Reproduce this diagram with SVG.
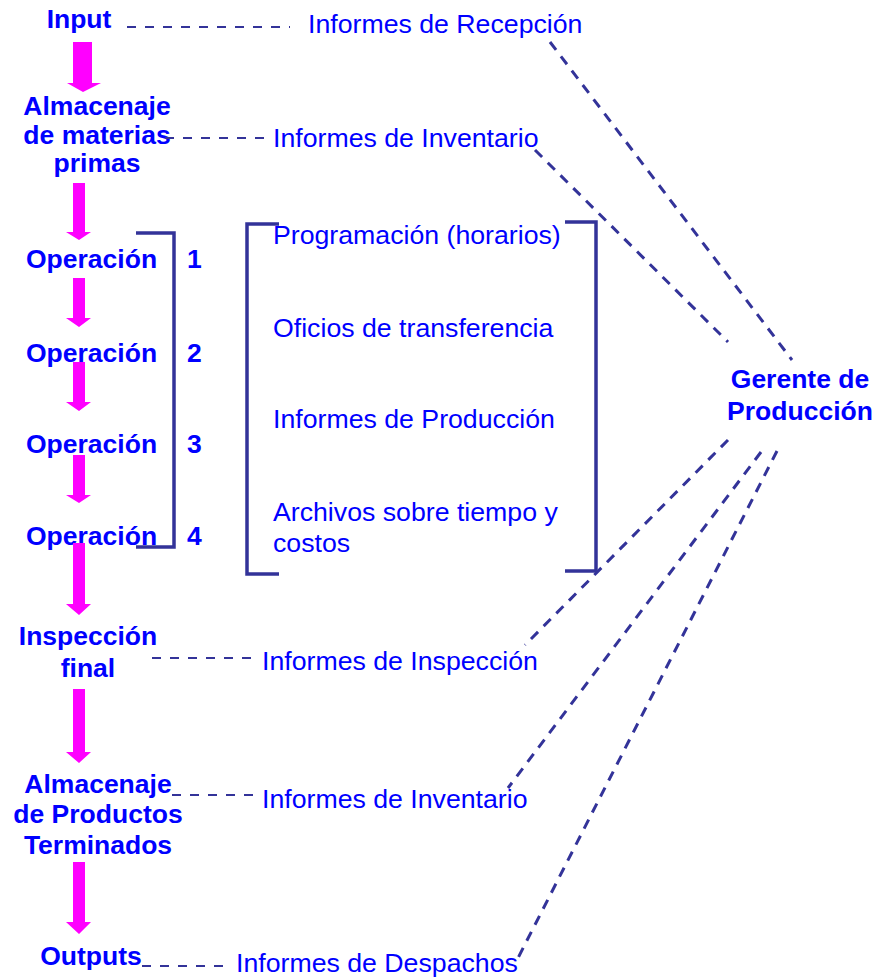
<svg xmlns="http://www.w3.org/2000/svg" width="880" height="978" viewBox="0 0 880 978">
  <defs>
    <style>
      .bold { font-family: "Liberation Sans", Arial, sans-serif; font-weight: bold; font-size: 26.5px; fill: #0000FF; }
      .reg { font-family: "Liberation Sans", Arial, sans-serif; font-size: 26.7px; fill: #0000FF; }
      .mid { text-anchor: middle; }
      .flow { fill: #FF00FF; stroke: none; }
      .dash { fill: none; stroke: #333399; stroke-width: 2.2; stroke-dasharray: 9 9; }
      .diag { fill: none; stroke: #333399; stroke-width: 3; stroke-dasharray: 10 8; }
      .brk { fill: none; stroke: #333399; stroke-width: 3.5; }
    </style>
  </defs>
  <rect width="880" height="978" fill="#FFFFFF"/>

  <!-- process stages -->
  <g id="input"><text class="bold mid" x="79" y="28">Input</text></g>
  <g id="almacenaje-mp">
    <text class="bold mid" x="97" y="115">Almacenaje</text>
    <text class="bold mid" x="97" y="144">de materias</text>
    <text class="bold mid" x="97" y="172">primas</text>
  </g>
  <g id="op1"><text class="bold" x="26" y="268">Operación</text><text class="bold" x="187" y="268">1</text></g>
  <g id="op2"><text class="bold" x="26" y="362">Operación</text><text class="bold" x="187" y="362">2</text></g>
  <g id="op3"><text class="bold" x="26" y="453">Operación</text><text class="bold" x="187" y="453">3</text></g>
  <g id="op4"><text class="bold" x="26" y="545">Operación</text><text class="bold" x="187" y="545">4</text></g>
  <g id="inspeccion">
    <text class="bold mid" x="88" y="645">Inspección</text>
    <text class="bold mid" x="88" y="677">final</text>
  </g>
  <g id="almacenaje-pt">
    <text class="bold mid" x="98" y="793">Almacenaje</text>
    <text class="bold mid" x="98" y="823">de Productos</text>
    <text class="bold mid" x="98" y="854">Terminados</text>
  </g>
  <g id="outputs"><text class="bold mid" x="91" y="965">Outputs</text></g>

  <!-- reports -->
  <g id="inf-recepcion"><text class="reg" x="308" y="33">Informes de Recepción</text></g>
  <g id="inf-inventario-mp"><text class="reg" x="273" y="147">Informes de Inventario</text></g>
  <g id="registros">
    <text class="reg" x="273" y="244">Programación (horarios)</text>
    <text class="reg" x="273" y="337">Oficios de transferencia</text>
    <text class="reg" x="273" y="428">Informes de Producción</text>
    <text class="reg" x="273" y="521">Archivos sobre tiempo y</text>
    <text class="reg" x="273" y="552">costos</text>
  </g>
  <g id="inf-inspeccion"><text class="reg" x="262" y="670">Informes de Inspección</text></g>
  <g id="inf-inventario-pt"><text class="reg" x="262" y="808">Informes de Inventario</text></g>
  <g id="inf-despachos"><text class="reg" x="236" y="972">Informes de Despachos</text></g>

  <g id="gerente">
    <text class="bold mid" x="800" y="388">Gerente de</text>
    <text class="bold mid" x="800" y="420">Producción</text>
  </g>

  <!-- connectors -->
  <g id="connectors">
    <!-- flow arrows -->
    <polygon class="flow" points="73,42 92,42 92,83 101,83 83,92 67,83 73,83"/>
    <polygon class="flow" points="73,183 85,183 85,232 91,232 79,240 66,232 73,232"/>
    <polygon class="flow" points="73,278 85,278 85,318 91,318 79,327 66,318 73,318"/>
    <polygon class="flow" points="73,362 85,362 85,402 91,402 79,411 66,402 73,402"/>
    <polygon class="flow" points="73,455 85,455 85,495 91,495 79,503 66,495 73,495"/>
    <polygon class="flow" points="73,543 85,543 85,604 91,604 79,615 66,604 73,604"/>
    <polygon class="flow" points="73,689 85,689 85,752 91,752 79,763 66,752 73,752"/>
    <polygon class="flow" points="73,862 85,862 85,922 91,922 79,934 66,922 73,922"/>

    <!-- brackets -->
    <polyline class="brk" points="136,233 174,233 174,547 136,547"/>
    <polyline class="brk" points="279,224 247,224 247,574 279,574"/>
    <polyline class="brk" points="565,222 596,222 596,571 565,571"/>

    <!-- horizontal dashed links -->
    <line class="dash" x1="127" y1="27" x2="290" y2="27"/>
    <line class="dash" x1="165" y1="138" x2="270" y2="138"/>
    <line class="dash" x1="152" y1="658" x2="256" y2="658"/>
    <line class="dash" x1="172" y1="795" x2="256" y2="795"/>
    <line class="dash" x1="142" y1="966" x2="230" y2="966"/>

    <!-- dashed links to the manager -->
    <line class="diag" x1="550" y1="42" x2="792" y2="360"/>
    <line class="diag" x1="535" y1="150" x2="728" y2="342"/>
    <line class="diag" x1="728" y1="440" x2="525" y2="645"/>
    <line class="diag" x1="761" y1="452" x2="508" y2="788"/>
    <line class="diag" x1="777" y1="451" x2="518" y2="958"/>
  </g>
</svg>
